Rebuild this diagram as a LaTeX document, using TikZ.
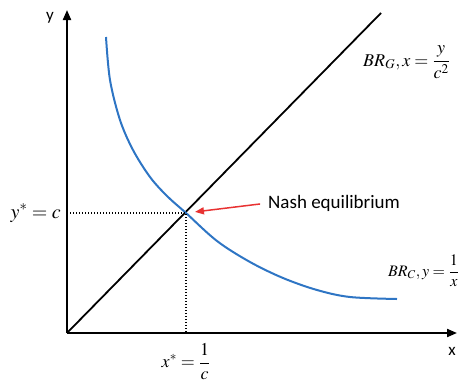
\documentclass[tikz,border=0pt]{standalone}
\usepackage{amsmath}
\usepackage{mathptmx}
\usepackage[no-math]{fontspec}
\setsansfont{Carlito}
\usetikzlibrary{arrows.meta,calc,positioning}
\definecolor{brblue}{RGB}{46,117,196}
\definecolor{eqred}{RGB}{232,50,50}

\begin{document}
\begin{tikzpicture}[x=1pt,y=1pt,
  axline/.style={line width=2pt,-{Triangle[length=10pt,width=8pt]}},
  axlab/.style={font=\sffamily\fontsize{17}{19}\selectfont,inner sep=0pt},
  gline/.style={line width=1.8pt},
  cline/.style={brblue,line width=2pt},
  guide/.style={line width=1.4pt,dash pattern=on 1.4pt off 1.6pt},
  mlab/.style={font=\fontsize{#1}{20}\selectfont,inner sep=0pt},
  mlab/.default=18,
  eqtxt/.style={font=\sffamily\fontsize{19}{21}\selectfont,inner sep=0pt},
  pointer/.style={eqred,line width=1.5pt,-{Triangle[length=9pt,width=7pt]}}]
  \useasboundingbox (-67,-51) rectangle (395,333);
  % axes
  \coordinate (o) at (0,0);
  \coordinate (xtip) at (390,0);
  \coordinate (ytip) at (0,323);
  \draw[axline] (o) -- (xtip);
  \draw[axline] (o) -- (ytip);
  \node[axlab] (xl) at (385,-18) {x};
  \node[axlab] (yl) at (-17,315) {y};
  % best responses
  \coordinate (gtop) at (314,320);
  \coordinate (ne) at (119,120);
  \draw[gline] (o) -- (gtop);
  \draw[cline] plot[smooth,tension=0.55] coordinates {(39,296) (43,253) (53,213)
    (66,183) (83,156) (100,137) (119,120) (150,92) (183,71) (216,55) (250,43)
    (283,36) (330,34)};
  \coordinate (xs) at (ne |- o);
  \coordinate (ys) at (ne -| o);
  \draw[guide] (ys) -- (ne) -- (xs);
  \node[mlab,anchor=base west] (lblg) at (296,267) {$BR_G, x=\dfrac{y}{c^2}$};
  \node[mlab=16,anchor=base west] (lblc) at (321,57) {$BR_C, y=\dfrac{1}{x}$};
  \node[mlab=20,anchor=base east] (lbly) at ($(ys)+(-6,-5)$) {$y^{*}=c$};
  \node[mlab,anchor=base] (lblx) at ($(xs)+(0,-34.5)$) {$x^{*}=\dfrac{1}{c}$};
  % equilibrium
  \node[eqtxt,anchor=west] (nash) at (201,130) {Nash equilibrium};
  \draw[pointer,shorten <=8pt,shorten >=9pt] (nash.west) -- (ne);
\end{tikzpicture}
\end{document}
